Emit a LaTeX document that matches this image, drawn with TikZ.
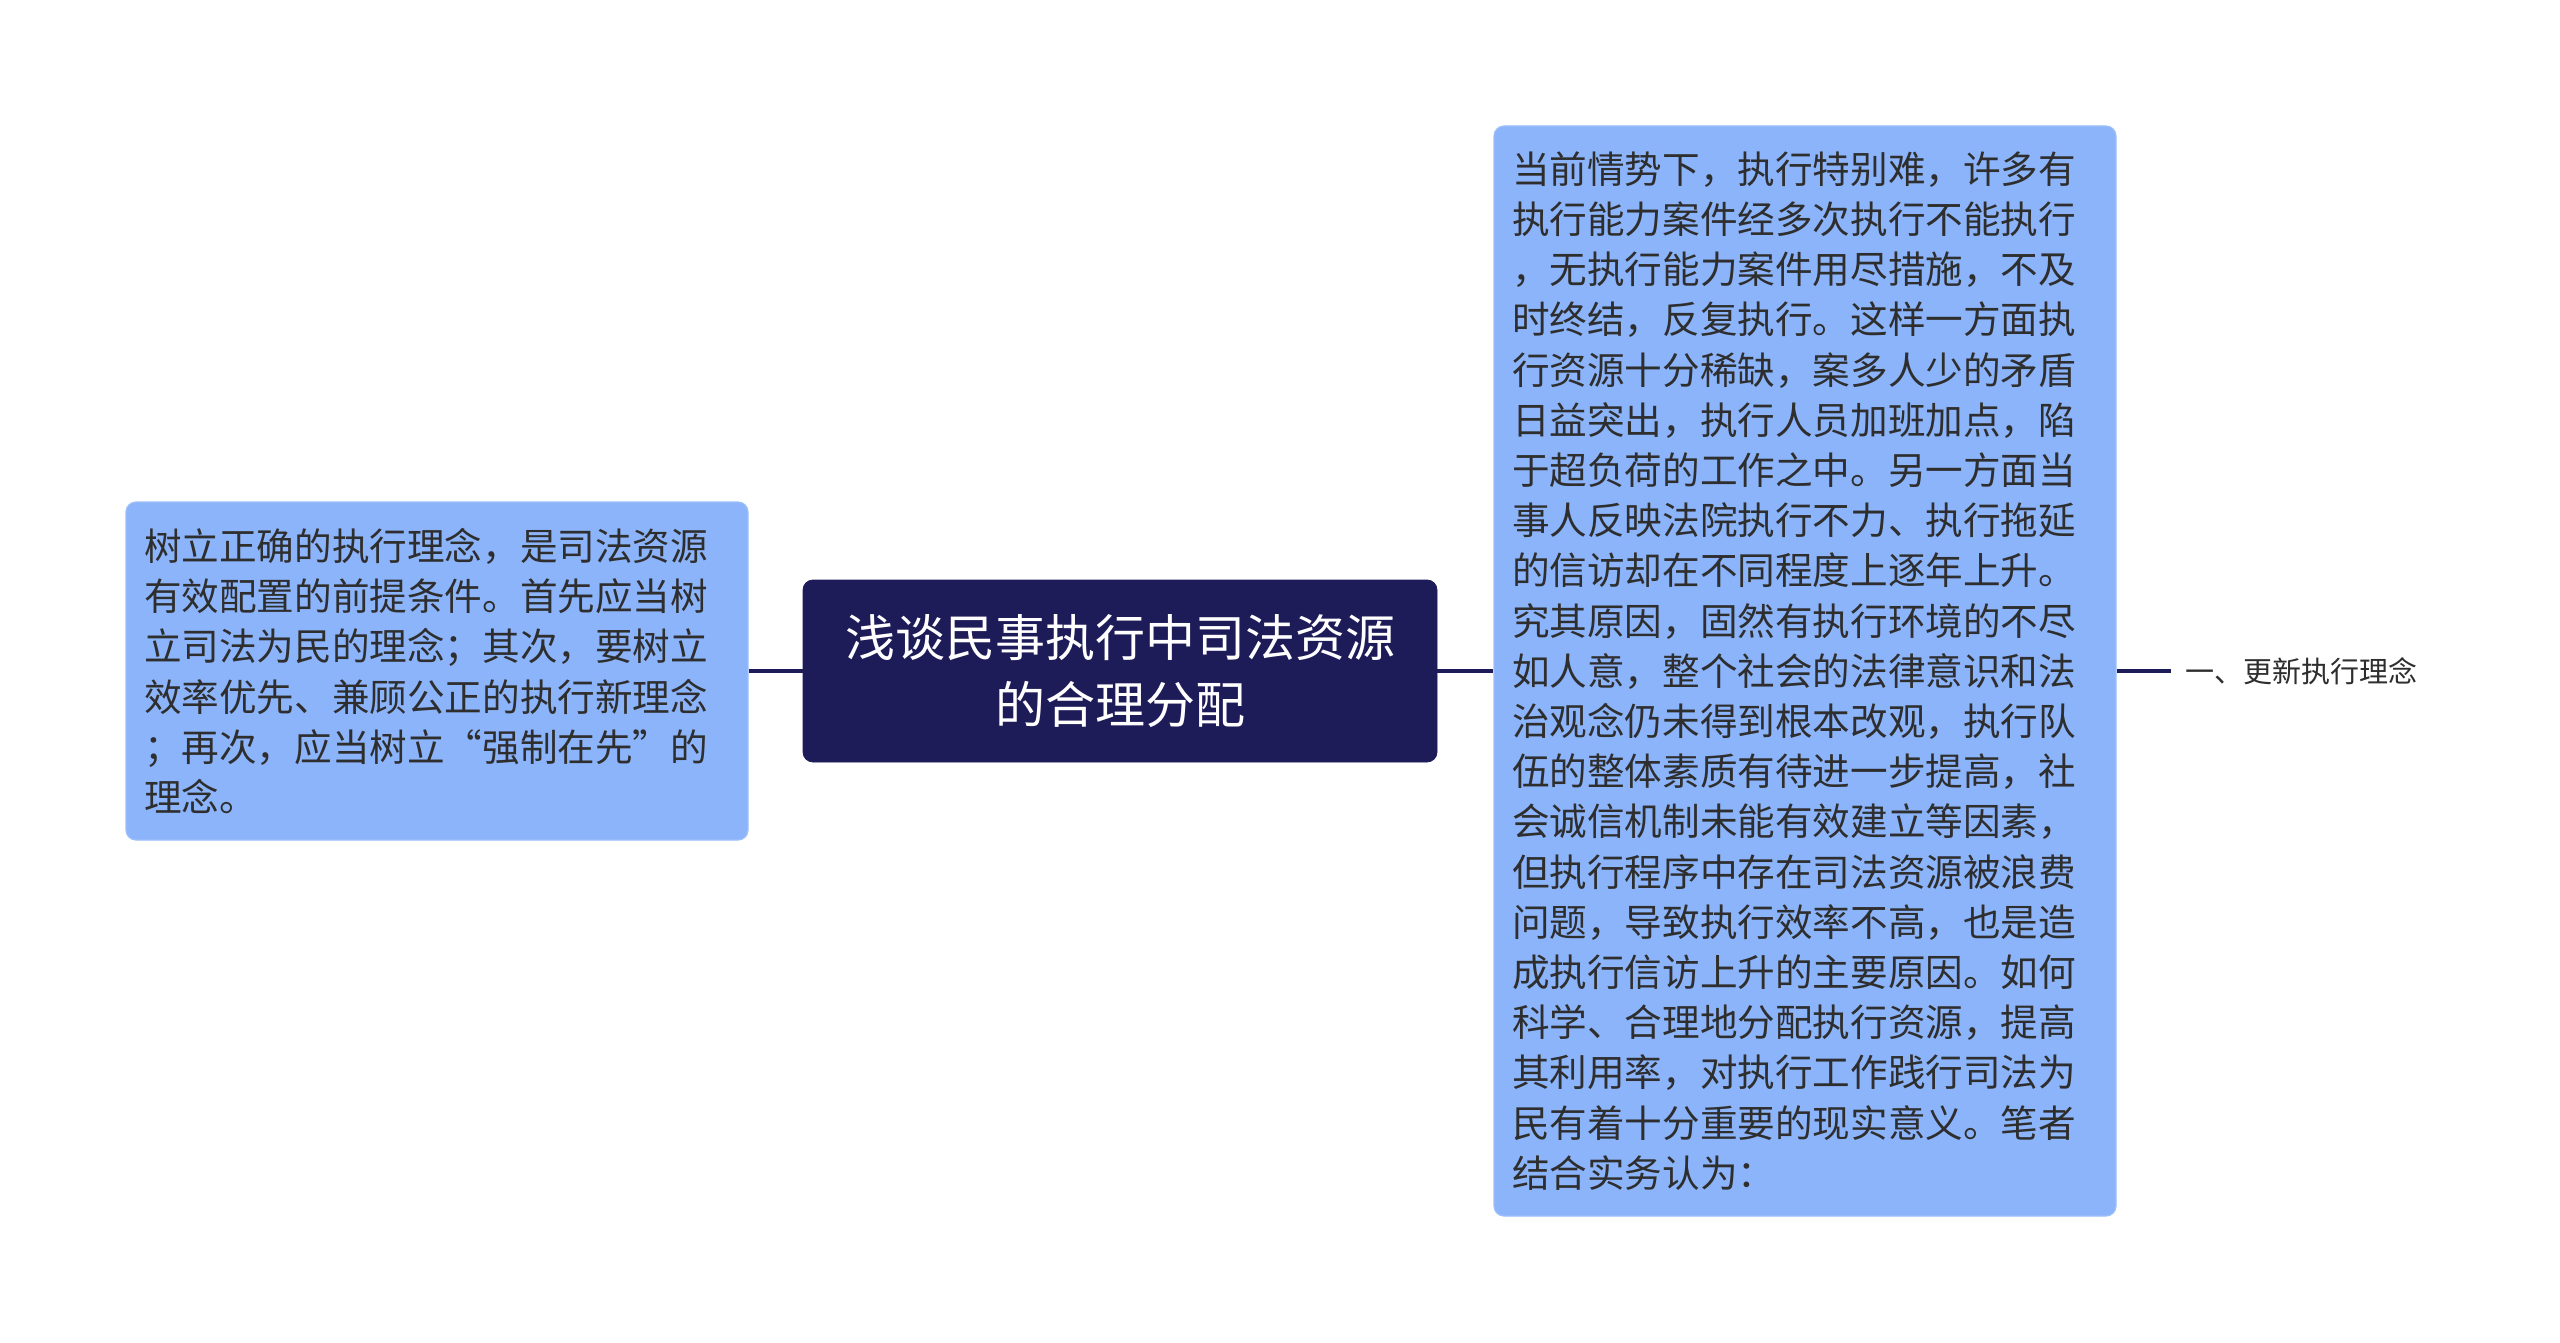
\documentclass[tikz,border=0pt]{standalone}
\usepackage{fontspec}
\setmainfont{Noto Sans CJK SC}
\definecolor{navy}{HTML}{1D1B58}
\definecolor{leafblue}{HTML}{8CB4FA}
\definecolor{leafedge}{HTML}{9DC0FA}
\definecolor{txtgray}{HTML}{2E2E2E}
\begin{document}
\begin{tikzpicture}[x=0.5pt,y=-0.5pt,
  leaf/.style={fill=leafblue, draw=leafedge, line width=0.6pt, rounded corners=5pt,
    text=txtgray, font=\fontsize{18.8}{25.1}\selectfont, align=left,
    text width=293pt, inner xsep=9pt, inner ysep=0pt, minimum width=311pt},
  rootbox/.style={fill=navy, draw=navy, rounded corners=5pt, text=white,
    font=\fontsize{25}{33.5}\selectfont, align=center,
    minimum width=317pt, minimum height=91pt, inner sep=0pt},
  lbl/.style={text=txtgray, font=\fontsize{14.5}{18}\selectfont, inner xsep=7pt, anchor=west},
  link/.style={draw=navy, line width=1.6pt}
]
\useasboundingbox (0,0) rectangle (2560,1343);
\fill[white] (0,0) rectangle (2560,1343);

\node[rootbox] (root) at (1120,671) {浅谈民事执行中司法资源\\的合理分配};

\node[leaf, minimum height=169pt] (left) at (437,671) {树立正确的执行理念，是司法资源\\有效配置的前提条件。首先应当树\\立司法为民的理念；其次，要树立\\效率优先、兼顾公正的执行新理念\\；再次，应当树立“强制在先”的\\理念。};

\node[leaf, minimum height=545pt] (right) at (1805,671) {当前情势下，执行特别难，许多有\\执行能力案件经多次执行不能执行\\，无执行能力案件用尽措施，不及\\时终结，反复执行。这样一方面执\\行资源十分稀缺，案多人少的矛盾\\日益突出，执行人员加班加点，陷\\于超负荷的工作之中。另一方面当\\事人反映法院执行不力、执行拖延\\的信访却在不同程度上逐年上升。\\究其原因，固然有执行环境的不尽\\如人意，整个社会的法律意识和法\\治观念仍未得到根本改观，执行队\\伍的整体素质有待进一步提高，社\\会诚信机制未能有效建立等因素，\\但执行程序中存在司法资源被浪费\\问题，导致执行效率不高，也是造\\成执行信访上升的主要原因。如何\\科学、合理地分配执行资源，提高\\其利用率，对执行工作践行司法为\\民有着十分重要的现实意义。笔者\\结合实务认为：};

\node[lbl] (tag) at (2171,671) {一、更新执行理念};

\draw[link] (left.east) -- (root.west);
\draw[link] (root.east) -- (right.west);
\draw[link] (right.east) -- (tag.west);
\end{tikzpicture}
\end{document}
